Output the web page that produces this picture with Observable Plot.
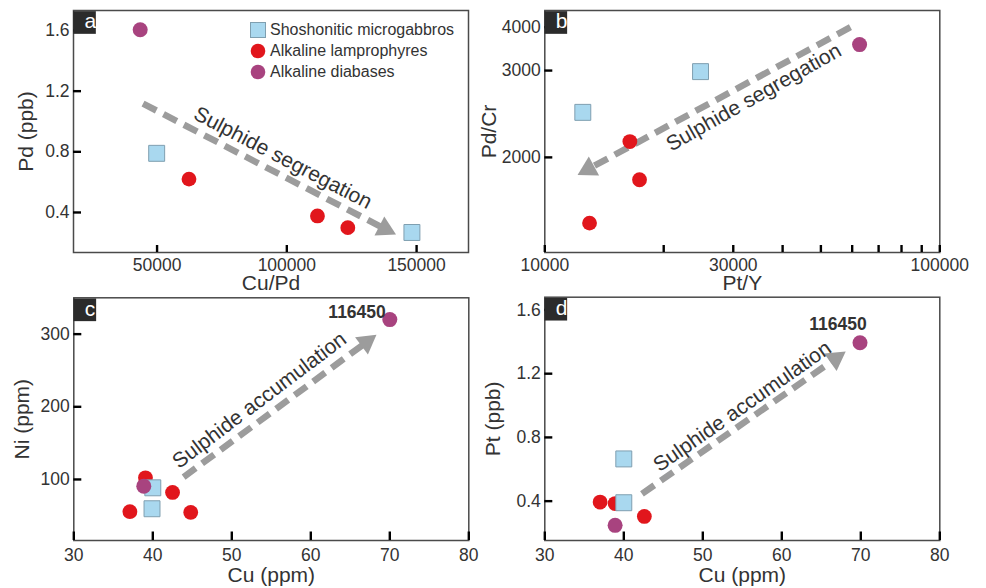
<!DOCTYPE html>
<html>
<head>
<meta charset="utf-8">
<script src="https://cdn.jsdelivr.net/npm/d3@7"></script>
<script src="https://cdn.jsdelivr.net/npm/@observablehq/plot@0.6"></script>
<style>
  html, body { margin: 0; padding: 0; background: #fff; }
  #wrap { position: relative; width: 986px; height: 588px; overflow: hidden;
          font-family: "Liberation Sans", Arial, Helvetica, sans-serif; color: #333; }
  #wrap > svg { position: absolute; overflow: visible; }
  #wrap svg [aria-label$="axis label"] text { font-size: 21px; }
  .legend { position: absolute; left: 249px; top: 19px; font-size: 16px; color: #333; line-height: 21px; }
  .legend .row { display: flex; align-items: center; height: 21px; }
  .legend svg { margin-right: 3px; }
</style>
</head>
<body>
<div id="wrap"></div>
<script>
// ---------- data ----------
const groupNames = ["Shoshonitic microgabbros", "Alkaline lamprophyres", "Alkaline diabases"];
const groupColors = ["#a9d8ef", "#e1161c", "#a8437f"];

// Panel a: Cu/Pd vs Pd (ppb)
const aCuPd = [49850, 148200, 62300, 111800, 123500, 43500];
const aPd = [0.79, 0.268, 0.62, 0.377, 0.30, 1.605];
const aGroup = [0, 0, 1, 1, 1, 2];
const aArrowX = [44600, 137800];
const aArrowY = [1.118, 0.292];
const aNoteX = [98500];
const aNoteY = [0.76];
const aXDomain = [17800, 170000];
const aYDomain = [0.136, 1.732];
const aXTicks = [50000, 100000, 150000];
const aYTicks = [0.4, 0.8, 1.2, 1.6];

// Panel b: Pt/Y vs Pd/Cr
const bPtY = [12480, 24790, 16420, 17370, 12980, 62650];
const bPdCr = [2418, 2982, 2129, 1842, 1597, 3528];
const bGroup = [0, 0, 1, 1, 1, 2];
const bArrowX = [59400, 12900];
const bArrowY = [3998, 1915];
const bNoteX = [33800];
const bNoteY = [2599];
const bXDomain = [10000, 100000];
const bYDomain = [1465, 4587];
const bXTicks = [10000, 20000, 30000, 40000, 50000, 60000, 70000, 80000, 90000, 100000];
const bXLabels = [10000, 30000, 100000];
const bYTicks = [2000, 3000, 4000];

// Panel c: Cu (ppm) vs Ni (ppm)
const cCu = [39.9, 40.0, 37.1, 39.07, 42.5, 44.8, 38.86, 70.0];
const cNi = [59.7, 88.5, 55.6, 102.3, 82.1, 54.6, 90.8, 320];
const cGroup = [0, 0, 1, 1, 1, 1, 2, 2];
const cArrowX = [43.9, 67.05];
const cArrowY = [103.2, 289];
const cNoteX = [53.5];
const cNoteY = [209];
const cXDomain = [30, 80];
const cYDomain = [16, 350];
const cXTicks = [30, 40, 50, 60, 70, 80];
const cYTicks = [100, 200, 300];

// Panel d: Cu (ppm) vs Pt (ppb)
const dCu = [40.0, 40.0, 37.0, 38.9, 42.6, 38.9, 69.9];
const dPt = [0.665, 0.39, 0.394, 0.385, 0.304, 0.248, 1.394];
const dGroup = [0, 0, 1, 1, 1, 2, 2];
const dArrowX = [42.3, 66.8];
const dArrowY = [0.446, 1.294];
const dNoteX = [55.0];
const dNoteY = [0.994];
const dXDomain = [30, 80];
const dYDomain = [0.153, 1.68];
const dXTicks = [30, 40, 50, 60, 70, 80];
const dYTicks = [0.4, 0.8, 1.2, 1.6];

const sampleId = "116450";

// ---------- drawing ----------
const FONT = '"Liberation Sans", Arial, Helvetica, sans-serif';
const GREY = "#9c9c9c";

function pointsOf(xs, ys, gs) {
  return xs.map((x, i) => ({x, y: ys[i], g: gs[i]}));
}

function panel(o) {
  const pts = pointsOf(o.xs, o.ys, o.gs);
  const arrow = [{x1: o.arrowX[0], y1: o.arrowY[0], x2: o.arrowX[1], y2: o.arrowY[1]}];
  const fmtX = o.xFormat || (d => String(d));
  const fmtY = o.yFormat || (d => String(d));
  const frameW = o.width - o.ml - o.mr;
  const frameH = o.height - o.mt - o.mb;
  const marks = [
    Plot.frame({stroke: "#4a4a4a", strokeWidth: 1.5}),
    Plot.axisX({ticks: o.xTicks, tickFormat: fmtX, tickSize: 0, tickPadding: o.xPad,
      fill: "#333", fontSize: 17.5,
      label: o.xLabel, labelAnchor: "center", labelOffset: o.xLabelOffset, labelArrow: "none"}),
    Plot.axisY({ticks: o.yTicks, tickFormat: fmtY, tickSize: 0, tickPadding: 4,
      fill: "#333", fontSize: 17.5,
      label: o.yLabel, labelAnchor: "center", labelOffset: o.yLabelOffset, labelArrow: "none"}),
    // inward ticks
    Plot.tickX(o.xTicks, {x: d => d, insetTop: frameH - o.tickX, stroke: "#000", strokeWidth: 2.4}),
    Plot.tickY(o.yTicks, {y: d => d, insetRight: frameW - 8, stroke: "#000", strokeWidth: 2.4}),
    Plot.link(arrow, {x1: "x1", y1: "y1", x2: "x2", y2: "y2", stroke: GREY, strokeWidth: 6.5, strokeDasharray: "15,8"}),
    Plot.dot([arrow[0]], {x: "x2", y: "y2", symbol: "triangle", r: 8, fill: GREY, rotate: o.headRotate}),
    Plot.text(o.noteX.map((x, i) => ({x, y: o.noteY[i]})), {x: "x", y: "y", text: () => o.note,
      rotate: o.noteRotate, fontSize: 21, fill: "#333"}),
    Plot.dot(pts.filter(p => p.g === 1), {x: "x", y: "y", r: 7.4, fill: groupColors[1]}),
    Plot.dot(pts.filter(p => p.g === 0), {x: "x", y: "y", symbol: "square", r: 9, fill: groupColors[0], stroke: "#7f9fb0", strokeWidth: 1}),
    Plot.dot(pts.filter(p => p.g === 2), {x: "x", y: "y", r: 7.5, fill: groupColors[2]})
  ];
  if (o.idLabel) {
    const last = pts.filter(p => p.g === 2).reduce((a, b) => (b.x > a.x ? b : a));
    marks.push(Plot.text([last], {x: "x", y: "y", text: () => sampleId, fontWeight: "bold", fontSize: 17.5,
      fill: "#333", textAnchor: o.idLabel.anchor, dx: o.idLabel.dx, dy: o.idLabel.dy}));
  }
  marks.push(Plot.dot([0], {frameAnchor: "top-left", dx: 11, dy: 12, symbol: "square", r: 12.8, fill: "#2b2b2b"}));
  marks.push(Plot.text([o.tag], {frameAnchor: "top-left", dx: 11, dy: 11, fill: "#fff", fontSize: 21, lineAnchor: "middle"}));

  const svg = Plot.plot({
    width: o.width, height: o.height,
    marginLeft: o.ml, marginRight: o.mr, marginTop: o.mt, marginBottom: o.mb,
    style: {fontFamily: FONT, background: "transparent", color: "#333", overflow: "visible"},
    x: {type: o.xType || "linear", domain: o.xDomain},
    y: {type: o.yType || "linear", domain: o.yDomain, exponent: o.yExponent},
    marks
  });
  svg.style.left = o.left + "px";
  svg.style.top = o.top + "px";
  document.getElementById("wrap").appendChild(svg);
}

panel({tag: "a", left: 0, top: 0, width: 478, height: 294, ml: 73, mr: 10, mt: 10, mb: 42,
  xs: aCuPd, ys: aPd, gs: aGroup, xDomain: aXDomain, yDomain: aYDomain, xTicks: aXTicks, yTicks: aYTicks,
  xLabel: "Cu/Pd", yLabel: "Pd (ppb)", xPad: 6, tickX: 7, xLabelOffset: 37, yLabelOffset: 55,
  arrowX: aArrowX, arrowY: aArrowY, headRotate: 117,
  noteX: aNoteX, noteY: aNoteY, note: "Sulphide segregation", noteRotate: 27.5});

panel({tag: "b", left: 478, top: 0, width: 508, height: 294, ml: 66.3, mr: 46.7, mt: 10, mb: 42,
  xs: bPtY, ys: bPdCr, gs: bGroup, xDomain: bXDomain, yDomain: bYDomain, xType: "log", yType: "pow", yExponent: -1,
  xTicks: bXTicks, yTicks: bYTicks, xFormat: d => (bXLabels.includes(d) ? String(d) : ""),
  xLabel: "Pt/Y", yLabel: "Pd/Cr", xPad: 6, tickX: 7, xLabelOffset: 37, yLabelOffset: 64,
  arrowX: bArrowX, arrowY: bArrowY, headRotate: -118.5,
  noteX: bNoteX, noteY: bNoteY, note: "Sulphide segregation", noteRotate: -29.5});

panel({tag: "c", left: 0, top: 294, width: 478, height: 294, ml: 73.3, mr: 9.7, mt: 3.3, mb: 48,
  xs: cCu, ys: cNi, gs: cGroup, xDomain: cXDomain, yDomain: cYDomain, xTicks: cXTicks, yTicks: cYTicks,
  xLabel: "Cu (ppm)", yLabel: "Ni (ppm)", xPad: 8, tickX: 8.5, xLabelOffset: 41, yLabelOffset: 60,
  arrowX: cArrowX, arrowY: cArrowY, headRotate: 53.5,
  noteX: cNoteX, noteY: cNoteY, note: "Sulphide accumulation", noteRotate: -37,
  idLabel: {anchor: "end", dx: -4, dy: -7}});

panel({tag: "d", left: 478, top: 294, width: 508, height: 294, ml: 66.3, mr: 46.7, mt: 2.7, mb: 48,
  xs: dCu, ys: dPt, gs: dGroup, xDomain: dXDomain, yDomain: dYDomain, xTicks: dXTicks, yTicks: dYTicks,
  xLabel: "Cu (ppm)", yLabel: "Pt (ppb)", xPad: 8, tickX: 8.5, xLabelOffset: 41, yLabelOffset: 60,
  arrowX: dArrowX, arrowY: dArrowY, headRotate: 55,
  noteX: dNoteX, noteY: dNoteY, note: "Sulphide accumulation", noteRotate: -35,
  idLabel: {anchor: "middle", dx: -22, dy: -18}});

// ---------- legend (panel a) ----------
const legend = document.createElement("div");
legend.className = "legend";
groupNames.forEach((name, i) => {
  const row = document.createElement("div");
  row.className = "row";
  const sw = i === 0
    ? `<svg width="18" height="18"><rect x="1.5" y="1.5" width="15" height="15" fill="${groupColors[0]}" stroke="#7f9fb0"/></svg>`
    : `<svg width="18" height="18"><circle cx="9" cy="9" r="7.3" fill="${groupColors[i]}"/></svg>`;
  row.innerHTML = sw + `<span>${name}</span>`;
  legend.appendChild(row);
});
document.getElementById("wrap").appendChild(legend);
</script>
</body>
</html>
